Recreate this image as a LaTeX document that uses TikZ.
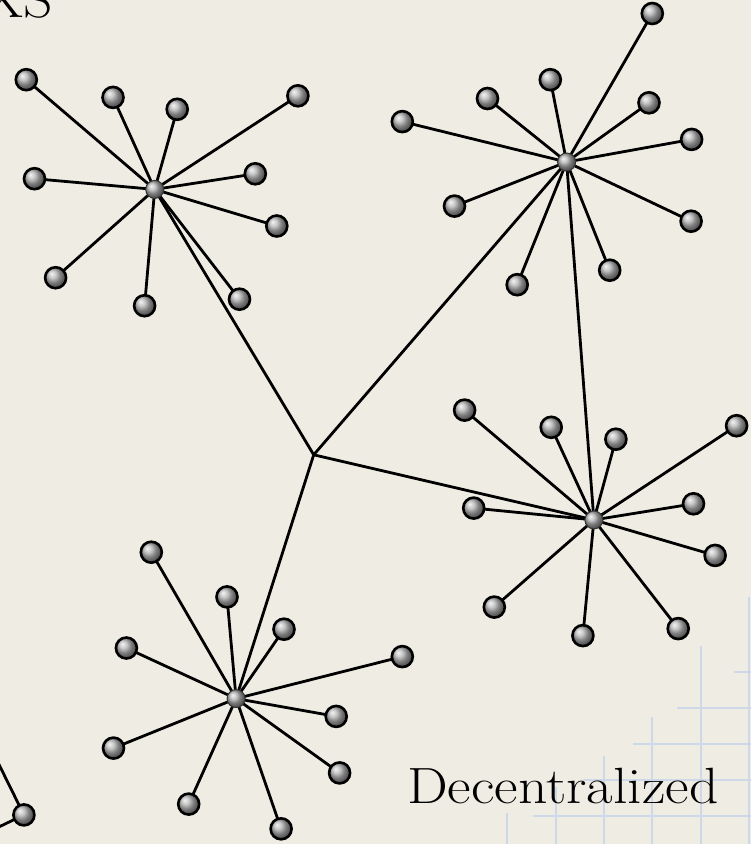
\documentclass[tikz,border=0pt]{standalone}
\usetikzlibrary{shadings}
\definecolor{bgcol}{HTML}{EFEDE3}
\definecolor{gridcol}{HTML}{CDD9E9}
\tikzset{
  leaf/.style={circle,draw=black,line width=2.6pt,minimum size=21pt,inner sep=0pt,shading=ball,ball color=gray!60!white},
  hub/.style={circle,draw=black!80,line width=1pt,minimum size=18pt,inner sep=0pt,shading=ball,ball color=gray!60!white},
  link/.style={draw=black,line width=2.8pt},
  gridline/.style={draw=gridcol,line width=2.6pt},
  label/.style={inner sep=0pt,font=\fontsize{51}{60}\selectfont}
}
\begin{document}
\begin{tikzpicture}[x=1pt,y=-1pt]
\useasboundingbox (0,0) rectangle (751,844);
\fill[bgcol] (0,0) rectangle (751,844);
% grid fragment
\foreach \gx/\gy in {507/813,556/787,604/756,652/717,701/646,749/597}
  \draw[gridline] (\gx,\gy) -- (\gx,850);
\foreach \gy/\gx in {816/533,780/583,744/633,708/677,672/734}
  \draw[gridline] (\gx,\gy) -- (760,\gy);
% texts
\node[label,anchor=base west] (title) at (-17,17) {\scalebox{1.13}[1]{XS}};
\node[label,anchor=base west] (dec) at (407,803) {\scalebox{1.13}[1]{Decentralized}};
% hubs
\coordinate (ctr) at (313.7,454.8);
\coordinate (hA) at (154.7,189.4);
\coordinate (hB) at (566.6,162);
\coordinate (hC) at (593.9,519.9);
\coordinate (hD) at (236.1,698.6);
% backbone links
\draw[link,line join=round] (hA) -- (ctr) -- (hB);
\draw[link,line join=round] (hC) -- (ctr) -- (hD);
\draw[link] (hB) -- (hC);
% star A
\foreach \i/\p in {1/{26.3,79.7},2/{113,97.4},3/{177.2,109.3},4/{297.9,95.8},5/{34.5,178.7},6/{255.3,173.8},7/{276.8,226},8/{55.6,277.7},9/{144.6,305.7},10/{239.5,299.2}}{
  \coordinate (a\i) at (\p);
  \draw[link] (hA) -- (a\i);
}
% star B
\foreach \i/\p in {1/{652.3,13.5},2/{550.3,79.7},3/{487.5,98.5},4/{649,102.8},5/{402.3,121.6},6/{691.6,139.4},7/{454.5,206.1},8/{691.1,221.2},9/{517.2,284.7},10/{609.7,270.2}}{
  \coordinate (b\i) at (\p);
  \draw[link] (hB) -- (b\i);
}
% star C
\foreach \i/\p in {1/{464.6,410.1},2/{551.2,427.3},3/{615.9,439.2},4/{736.6,425.7},5/{473.7,508.1},6/{693.5,503.8},7/{715.1,555.4},8/{494.3,607.1},9/{582.9,635.6},10/{678.2,628.6}}{
  \coordinate (c\i) at (\p);
  \draw[link] (hC) -- (c\i);
}
% star D
\foreach \i/\p in {1/{151.3,552.2},2/{227,596.9},3/{284,629.2},4/{126.4,648},5/{402.3,656.6},6/{336.2,716.4},7/{113.5,748.1},8/{339.6,772.9},9/{188.7,804.1},10/{281.1,828.8}}{
  \coordinate (d\i) at (\p);
  \draw[link] (hD) -- (d\i);
}
% partial star at bottom left
\coordinate (e0) at (23.9,814.9);
\coordinate (eU) at (-20,726);
\coordinate (eL) at (-20,836);
\draw[link] (eU) -- (e0) -- (eL);
% leaf balls
\foreach \n in {a,b,c,d}{
  \foreach \i in {1,...,10}
    \node[leaf] (\n\i n) at (\n\i) {};
}
\node[leaf] (e0n) at (e0) {};
% hub balls
\foreach \h in {hA,hB,hC,hD}
  \node[hub] (\h n) at (\h) {};
\end{tikzpicture}
\end{document}
